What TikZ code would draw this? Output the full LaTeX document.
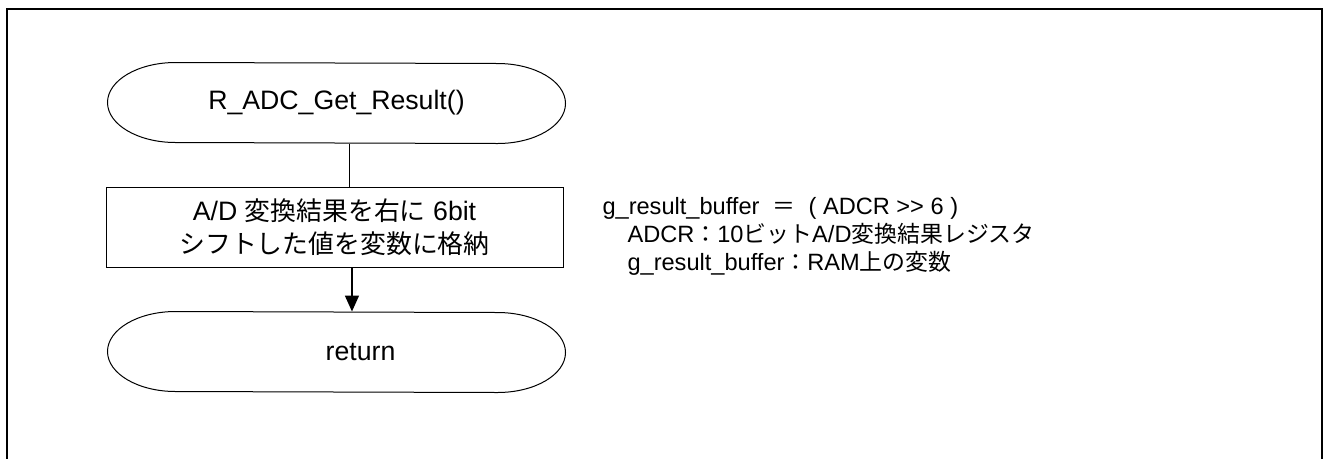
\documentclass[tikz,border=0pt]{standalone}
\usepackage{fontspec}
\setmainfont{Liberation Sans}
\newfontfamily\jp[Scale=0.97]{Noto Sans CJK JP}
\usetikzlibrary{ arrows.meta, % For the arrow tip
               }

\tikzset{
  term/.style={minimum width=240.75pt, minimum height=60pt, inner sep=0pt,
               font=\fontsize{20pt}{25pt}\selectfont},
  proc/.style={draw, minimum width=342.75pt, minimum height=60pt, inner sep=0pt,
               align=center, font=\fontsize{20pt}{25pt}\selectfont},
  note/.style={align=left, inner sep=0pt, font=\fontsize{17.7pt}{21pt}\selectfont},
}

\begin{document}
\begin{tikzpicture}[x=0.75pt, y=-0.75pt, line width=0.75pt] % units are pixels
  \useasboundingbox (0,0) rectangle (1327,458);
  \draw[line width=1.5pt] (7,9) rectangle (1322,475);

  \node[term] (start) at (336.5,103) {R\_ADC\_Get\_Result()};
  \node[proc] (calc) at (334.5,227) {A/D {\jp 変換結果を右に} 6bit\\{\jp シフトした値を変数に格納}};
  \node[term] (ret) at (336.5,352) {\hspace*{36pt}return};

  \node[note, anchor=west] (note) at (602,236)
    {g\_result\_buffer\ \ {\jp ＝}\ \ ( ADCR >{}> 6 )\\
     \hspace*{18.75pt}ADCR{\jp ：}10{\jp ビット}A/D{\jp 変換結果レジスタ}\\
     \hspace*{18.75pt}g\_result\_buffer{\jp ：}RAM{\jp 上の変数}};

  % rounded ends of the terminals
  \draw (start.north west) arc[start angle=90, end angle=270, x radius=51pt, y radius=30pt]
     -- (start.south east) arc[start angle=-90, end angle=90, x radius=51pt, y radius=30pt] -- cycle;
  \draw (ret.north west) arc[start angle=90, end angle=270, x radius=51pt, y radius=30pt]
     -- (ret.south east) arc[start angle=-90, end angle=90, x radius=51pt, y radius=30pt] -- cycle;

  \draw ([xshift=9.4pt]start.south) -- ([xshift=10.9pt]calc.north);
  \draw[line width=1.2pt, -{Triangle[length=12pt, width=10.5pt]}]
    ([xshift=13.1pt]calc.south) -- ([xshift=11.6pt]ret.north);
\end{tikzpicture}
\end{document}
